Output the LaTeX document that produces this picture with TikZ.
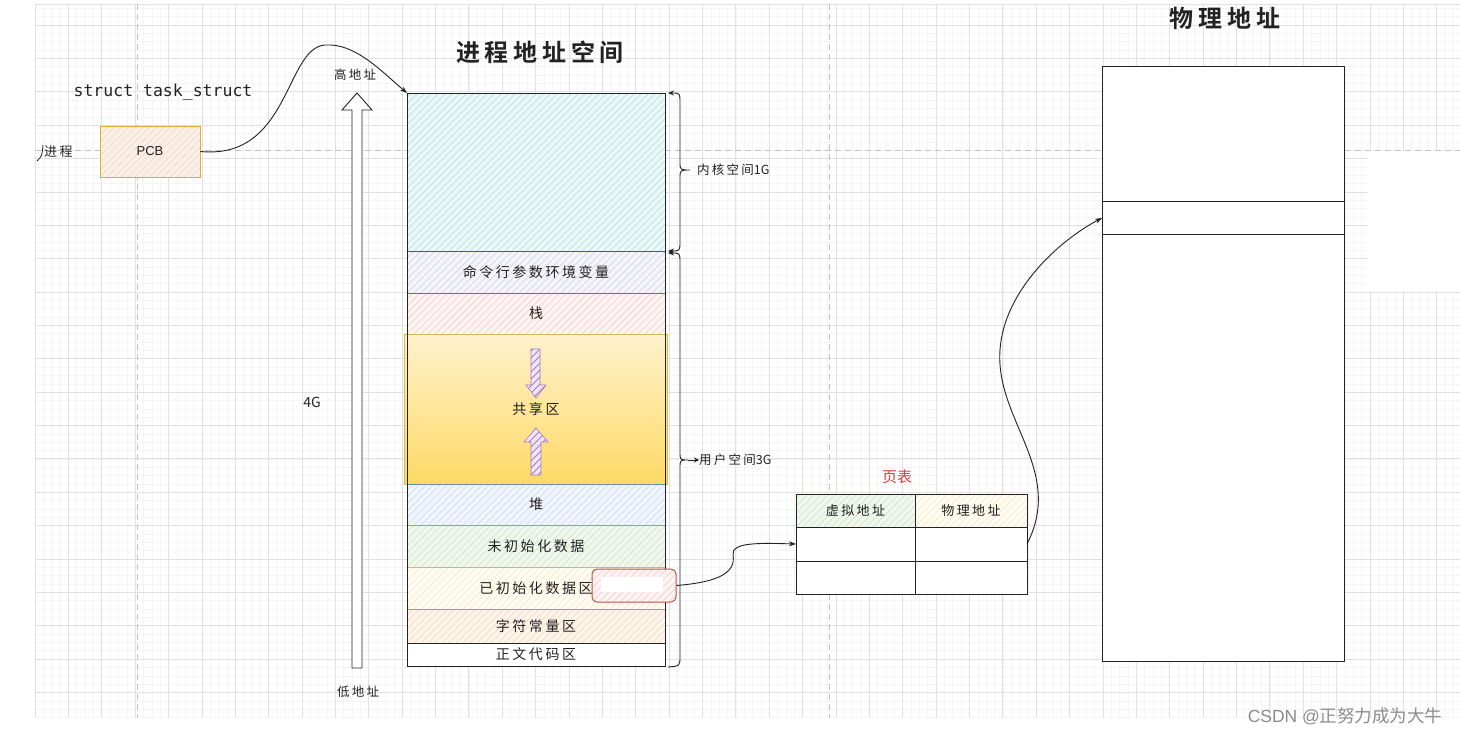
\documentclass[tikz,border=0pt]{standalone}
\usepackage{fontspec}
\usepackage{tikz}
\usetikzlibrary{positioning,arrows.meta}
\newfontfamily\hand[LetterSpace=18]{Noto Sans CJK SC}
\newfontfamily\plaincjk{Noto Sans CJK SC}
\newfontfamily\headfont[LetterSpace=20]{Noto Sans CJK SC Bold}
\newfontfamily\codefont{DejaVu Sans Mono}
\newfontfamily\sansfont{Liberation Sans}

\definecolor{gridmin}{HTML}{F4F4F4}
\definecolor{gridmaj}{HTML}{E1E1E1}
\definecolor{guide}{HTML}{C4C4C4}
\definecolor{ink}{HTML}{222222}
\definecolor{tealline}{HTML}{2E8B8B}
\definecolor{tealfill}{HTML}{EAF8F8}
\definecolor{tealhatch}{HTML}{BDE6E6}
\definecolor{purpline}{HTML}{56517E}
\definecolor{purpfill}{HTML}{F4F4F9}
\definecolor{purphatch}{HTML}{D9D8EA}
\definecolor{redline}{HTML}{B85450}
\definecolor{redfill}{HTML}{FEF4F3}
\definecolor{redhatch}{HTML}{F6D3CF}
\definecolor{goldline}{HTML}{D6B656}
\definecolor{goldtop}{HTML}{FFF2CC}
\definecolor{goldbot}{HTML}{FFD966}
\definecolor{blueline}{HTML}{6C8EBF}
\definecolor{bluefill}{HTML}{F2F6FC}
\definecolor{bluehatch}{HTML}{D3E0F3}
\definecolor{greenline}{HTML}{82B366}
\definecolor{greenfill}{HTML}{F1F7EE}
\definecolor{greenhatch}{HTML}{D6E9CD}
\definecolor{creamfill}{HTML}{FFFCF3}
\definecolor{creamhatch}{HTML}{F7EBC9}
\definecolor{orangeline}{HTML}{D79B00}
\definecolor{peachfill}{HTML}{FEF5EC}
\definecolor{peachhatch}{HTML}{F7DEC4}
\definecolor{pcbline}{HTML}{E2AC32}
\definecolor{pcbfill}{HTML}{FBF0E8}
\definecolor{pcbhatch}{HTML}{F1DCCB}
\definecolor{arrowfill}{HTML}{F0E6F5}
\definecolor{arrowhatch}{HTML}{A77BC0}
\definecolor{tabletitle}{HTML}{E0393E}
\definecolor{wmark}{HTML}{8C8C8C}

\tikzset{
  hatch/.style={path picture={
      \foreach \k in {-48,...,40}
        \draw[#1, line width=0.8pt] ([xshift=\k*7pt]path picture bounding box.south west) -- ++(330pt,330pt);
    }},
  seg/.style={line width=0.9pt, minimum width=258pt, inner sep=0pt, outer sep=0pt, text=ink,
    font=\hand\fontsize{14}{14}\selectfont},
  cell/.style={draw=ink, line width=0.9pt, minimum height=33pt, inner sep=0pt, outer sep=0pt, text=ink,
    font=\hand\fontsize{13}{13}\selectfont},
  lbl/.style={text=ink, inner sep=0pt, font=\hand\fontsize{12.5}{12.5}\selectfont},
  link/.style={draw=ink, line width=0.9pt, -{Stealth[length=7pt,width=5pt]}},
}

\begin{document}
\begin{tikzpicture}[x=1pt,y=-1pt]
\useasboundingbox (0,0) rectangle (1460,734);
\fill[white] (0,0) rectangle (1460,734);

% grid
\foreach \i in {0,...,170}
  \draw[gridmin, line width=0.5pt] ({35+8.343*\i},4) -- ({35+8.343*\i},718);
\foreach \j in {-2,...,83}
  \draw[gridmin, line width=0.5pt] (35,{25+8.343*\j}) -- (1460,{25+8.343*\j});
\foreach \i in {0,...,42}
  \draw[gridmaj, line width=0.7pt] ({35+33.372*\i},4) -- ({35+33.372*\i},718);
\foreach \j in {0,...,20}
  \draw[gridmaj, line width=0.7pt] (35,{25+33.372*\j}) -- (1460,{25+33.372*\j});
\draw[gridmaj, line width=0.7pt] (35,4) -- (1460,4);
\fill[white] (1367,151) rectangle (1461,291);
\draw[guide, line width=0.8pt, dash pattern=on 6pt off 4pt] (35,150) -- (1460,150);
\draw[guide, line width=0.8pt, dash pattern=on 6pt off 4pt] (137,4) -- (137,718);
\draw[guide, line width=0.8pt, dash pattern=on 6pt off 4pt] (829,4) -- (829,718);

% process / PCB
\node[text=ink, font=\codefont\fontsize{16.5}{16.5}\selectfont] (tsk) at (163,92) {struct task\_struct};
\node[lbl, anchor=west, font=\hand\fontsize{13}{13}\selectfont] (proc) at (44,152) {进程};
\draw[ink, line width=0.8pt] (43,145) .. controls (42,156) .. (37,161);
\node[draw=pcbline, line width=0.9pt, fill=pcbfill, hatch=pcbhatch, minimum width=100pt,
  minimum height=51pt, text=ink, font=\sansfont\fontsize{13}{13}\selectfont] (pcb) at (150,151.5) {PCB};

% address labels and big arrow
\node[lbl] (hi) at (355,75) {高地址};
\node[lbl] (lo) at (358,692) {低地址};
\node[lbl, font=\plaincjk\fontsize{14}{14}\selectfont] (size) at (312,402) {4G};
\draw[ink, line width=0.9pt, fill=white] (352,668) -- (352,110) -- (342,110) -- (357,93)
  -- (372,110) -- (362,110) -- (362,668) -- cycle;

% title
\node[text=ink, font=\headfont\fontsize{24}{24}\selectfont] (vtitle) at (540,52) {进程地址空间};

% address space segments
\node[seg, draw=tealline, fill=tealfill, hatch=tealhatch, minimum height=158pt, anchor=north] (kern) at (536,93) {};
\node[seg, draw=purpline, fill=purpfill, hatch=purphatch, minimum height=42pt, below=0pt of kern] (args) {命令行参数环境变量};
\node[seg, draw=redline, fill=redfill, hatch=redhatch, minimum height=41pt, below=0pt of args] (stk) {栈};
\node[seg, top color=goldtop, bottom color=goldbot, minimum width=263pt,
  minimum height=150pt, below=0pt of stk] (shm) {共享区};
\draw[goldline, line width=0.9pt] (shm.north west) rectangle (shm.south east);
\node[seg, draw=blueline, fill=bluefill, hatch=bluehatch, minimum height=41pt, below=0pt of shm] (heap) {堆};
\node[seg, draw=greenline, fill=greenfill, hatch=greenhatch, minimum height=42pt, below=0pt of heap] (bss) {未初始化数据};
\node[seg, draw=goldline, fill=creamfill, hatch=creamhatch, minimum height=42pt, below=0pt of bss] (data) {已初始化数据区};
\node[seg, draw=orangeline, fill=peachfill, hatch=peachhatch, minimum height=34pt, below=0pt of data] (rodata) {字符常量区};
\node[seg, draw=ink, fill=white, minimum height=23pt, below=0pt of rodata] (code) {正文代码区};
\draw[ink, line width=1pt] (kern.north west) rectangle (code.south east);

% grow arrows in the shared area
\draw[arrowhatch, line width=0.6pt, fill=arrowfill, hatch=arrowhatch] (531,349) -- (540,349) -- (540,385)
  -- (546,385) -- (536,398) -- (526,385) -- (531,385) -- cycle;
\draw[arrowhatch, line width=0.6pt, fill=arrowfill, hatch=arrowhatch] (531,475) -- (541,475) -- (541,442)
  -- (548,442) -- (536,428) -- (524,442) -- (531,442) -- cycle;

% marked entry
\node[draw=redline, line width=1pt, rounded corners=5pt, fill=redfill, hatch=redhatch,
  minimum width=84pt, minimum height=33pt] (mark) at (634,585.5) {};
\node[fill=white, minimum width=62pt, minimum height=15pt, inner sep=0pt] (blank) at (632,584.5) {};

% braces
\draw[ink, line width=0.9pt, {Stealth[length=6pt,width=5pt]}-{Stealth[length=6pt,width=5pt]}]
  (668,93) .. controls (680,93) .. (680,103) -- (680,162) .. controls (680,170) .. (690,170)
  .. controls (680,170) .. (680,178) -- (680,241) .. controls (680,251) .. (668,251);
\node[lbl, anchor=west] (klbl) at (697,170) {内核空间{\plaincjk 1G}};
\draw[ink, line width=0.9pt, {Stealth[length=6pt,width=5pt]}-]
  (668,253) .. controls (680,253) .. (680,263) -- (680,452) .. controls (680,460) .. (688,460)
  .. controls (680,460) .. (680,468) -- (680,656) .. controls (680,666) .. (668,667);
\node[lbl, anchor=west] (ulbl) at (699,460) {用户空间{\plaincjk 3G}};
\draw[ink, line width=0.9pt, -{Stealth[length=5pt,width=5pt]}] (688,460) -- (ulbl.west);

% page table
\node[text=tabletitle, font=\plaincjk\fontsize{15}{15}\selectfont] (ptitle) at (897,477) {页表};
\node[cell, fill=greenfill, hatch=greenhatch, minimum width=119pt] (va) at (855.5,510.5) {虚拟地址};
\node[cell, fill=creamfill, hatch=creamhatch, minimum width=112pt, right=0pt of va] (pa) {物理地址};
\node[cell, fill=white, minimum width=119pt, minimum height=34pt, below=0pt of va] (va1) {};
\node[cell, fill=white, minimum width=112pt, minimum height=34pt, below=0pt of pa] (pa1) {};
\node[cell, fill=white, minimum width=119pt, below=0pt of va1] (va2) {};
\node[cell, fill=white, minimum width=112pt, below=0pt of pa1] (pa2) {};

% physical memory
\node[text=ink, font=\headfont\fontsize{24}{24}\selectfont] (ptitle2) at (1225,18) {物理地址};
\node[draw=ink, line width=1pt, fill=white, minimum width=242pt, minimum height=595pt,
  anchor=north west, inner sep=0pt] (phys) at (1102,66) {};
\node[draw=ink, line width=1pt, minimum width=242pt, minimum height=33pt,
  anchor=north west, inner sep=0pt] (frame) at (1102,201) {};

% connectors
\draw[link] (pcb.east) .. controls (290,160) and (285,48) .. (325,45)
  .. controls (355,43) and (380,70) .. (kern.north west);
\draw[link] (mark.east) .. controls (720,582) and (736,572) .. (733,555)
  .. controls (731,542) and (760,543) .. (va1.west);
\draw[link] (pa1.east) .. controls (1065,470) and (995,420) .. (1000,350)
  .. controls (1004,290) and (1060,240) .. (frame.west);

% watermark
\node[text=wmark, font=\sansfont\fontsize{17.5}{17.5}\selectfont, anchor=east] (wm) at (1446,716) {CSDN @{\plaincjk 正努力成为大牛}};
\end{tikzpicture}
\end{document}
